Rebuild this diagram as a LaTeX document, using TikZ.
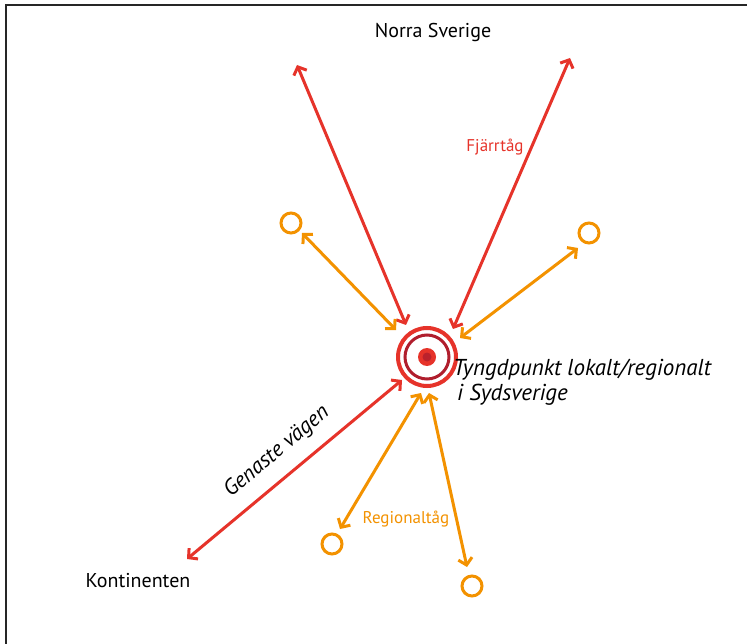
\documentclass[tikz,border=0pt]{standalone}
\usepackage{fontspec}
\setmainfont{PT Sans}
\usetikzlibrary{arrows.meta}
\definecolor{myred}{HTML}{E6332A}
\definecolor{myorange}{HTML}{F39200}
\definecolor{mydark}{HTML}{B01E2D}
\tikzset{
  redarr/.style={draw=myred, line width=3pt, {Straight Barb[length=6.5pt,width=14pt]}-{Straight Barb[length=6.5pt,width=14pt]}},
  orarr/.style={draw=myorange, line width=3pt, {Straight Barb[length=6.5pt,width=14pt]}-{Straight Barb[length=6.5pt,width=14pt]}},
  town/.style={circle, draw=myorange, line width=3pt, minimum size=20pt, inner sep=0pt},
  lbl/.style={font=\fontsize{20}{22}\selectfont, inner sep=0pt},
  small/.style={font=\fontsize{17}{19}\selectfont, inner sep=0pt},
}
\begin{document}
\begin{tikzpicture}[x=1pt,y=-1pt]
\useasboundingbox (0,0) rectangle (747,644);
\fill[white] (0,0) rectangle (747,644);
% frame
\draw[line width=1.5pt, black!85] (6,644) -- (6,5) -- (747,5);
% hub
\node[circle, draw=myred, line width=4pt, minimum size=58pt, inner sep=0pt] (hub) at (427,357) {};
\node[circle, draw=mydark, line width=3pt, minimum size=44pt, inner sep=0pt] (hubin) at (hub.center) {};
\node[circle, fill=myred, minimum size=18pt, inner sep=0pt] (dot) at (hub.center) {};
\node[circle, fill=mydark!80!myred, minimum size=9pt, inner sep=0pt] (dotc) at (hub.center) {};
% towns
\node[town] (t1) at (291,223) {};
\node[town] (t2) at (589,233) {};
\node[town] (t3) at (332,544) {};
\node[town] (t4) at (472,586) {};
% arrow ends
\coordinate (r1a) at (297,65);  \coordinate (r1b) at (406,325);
\coordinate (r2a) at (570,58);  \coordinate (r2b) at (453,329);
\coordinate (r3a) at (187,559); \coordinate (r3b) at (402,380);
\coordinate (o1a) at (302,233); \coordinate (o1b) at (396,330);
\coordinate (o2a) at (578,248); \coordinate (o2b) at (460,338);
\coordinate (o3a) at (340,529); \coordinate (o3b) at (421,393);
\coordinate (o4a) at (467,567); \coordinate (o4b) at (429,393);
\draw[redarr] (r1a) -- (r1b);
\draw[redarr] (r2a) -- (r2b);
\draw[redarr] (r3a) -- (r3b);
\draw[orarr] (o1a) -- (o1b);
\draw[orarr] (o2a) -- (o2b);
\draw[orarr] (o3a) -- (o3b);
\draw[orarr] (o4a) -- (o4b);
% labels
\node[lbl] (norr) at (433,33) {Norra Sverige};
\node[small, text=myred] (fjarr) at (495,147) {Fjärrtåg};
\node[small, text=myorange] (regio) at (406,519) {Regionaltåg};
\node[lbl] (kont) at (138,581) {Kontinenten};
\node[lbl, font=\fontsize{22}{24}\selectfont\itshape, rotate=40] (gen) at (277,452) {Genaste vägen};
\node[lbl, font=\fontsize{23}{25}\selectfont\itshape, anchor=base west] (tyng) at (453,375) {Tyngdpunkt lokalt/regionalt};
\node[lbl, font=\fontsize{23}{25}\selectfont\itshape, anchor=base west] (syd) at (457,400) {i Sydsverige};
\end{tikzpicture}
\end{document}
